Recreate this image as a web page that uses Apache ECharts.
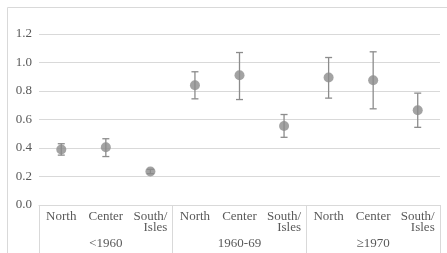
<!DOCTYPE html>
<html>
<head>
<meta charset="utf-8">
<script src="https://cdn.jsdelivr.net/npm/echarts@6/dist/echarts.min.js"></script>
<style>html,body{margin:0;padding:0;background:#fff}#c{width:447px;height:253px}</style>
</head>
<body>
<div id="c"></div>
<script>
var categories = ['North','Center','South/\nIsles','North','Center','South/\nIsles','North','Center','South/\nIsles'];
var groups = ['<1960','1960-69','\u22651970'];
var means = [0.39, 0.405, 0.235, 0.84, 0.91, 0.555, 0.895, 0.875, 0.665];
var lower = [0.35, 0.34, 0.22, 0.745, 0.74, 0.475, 0.75, 0.675, 0.545];
var upper = [0.43, 0.465, 0.25, 0.935, 1.07, 0.635, 1.035, 1.075, 0.785];
var yTicks = {min: 0, max: 1.2, interval: 0.2};

var chart = echarts.init(document.getElementById('c'), null, {renderer: 'canvas'});
var font = 'Liberation Serif';
var textColor = '#595959';
var lineColor = '#d9d9d9';

var pointData = means.map(function (v, i) { return [i, v]; });
var errData = means.map(function (v, i) { return [i, lower[i], upper[i]]; });

chart.setOption({
  animation: false,
  textStyle: {fontFamily: font},
  graphic: [{
    type: 'rect', left: 5, top: 5, silent: true,
    shape: {width: 460, height: 270},
    style: {fill: 'none', stroke: lineColor, lineWidth: 1}
  }],
  grid: {left: 39, right: 7, top: 34, bottom: 48},
  xAxis: [{
    type: 'category', data: categories, gridIndex: 0, position: 'bottom',
    axisLine: {show: true, lineStyle: {color: lineColor, width: 1}},
    axisTick: {show: false},
    axisLabel: {
      interval: 0, margin: 6, color: textColor, fontFamily: font, fontSize: 13,
      formatter: function (v) {
        return v.split('\n').map(function (s) { return '{r|' + s + '}'; }).join('\n');
      },
      rich: {r: {align: 'right', fontFamily: font, fontSize: 13, color: textColor, lineHeight: 11}}
    },
    splitLine: {show: false}
  }, {
    type: 'category', data: groups, gridIndex: 0, position: 'bottom',
    axisLine: {show: false},
    axisTick: {show: true, interval: 0, length: 48, lineStyle: {color: lineColor, width: 1}},
    axisLabel: {interval: 0, margin: 32, color: textColor, fontFamily: font, fontSize: 13},
    splitLine: {show: false}
  }],
  yAxis: {
    type: 'value', min: yTicks.min, max: yTicks.max, interval: yTicks.interval,
    axisLine: {show: false}, axisTick: {show: false},
    axisLabel: {margin: 7, color: textColor, fontFamily: font, fontSize: 13,
      formatter: function (v) { return v.toFixed(1); }},
    splitLine: {lineStyle: {color: lineColor, width: 1}}
  },
  series: [{
    type: 'custom', xAxisIndex: 0, z: 2,
    data: errData,
    renderItem: function (params, api) {
      var x = api.coord([api.value(0), api.value(1)]);
      var top = api.coord([api.value(0), api.value(2)]);
      var cap = 3.5;
      var st = {stroke: '#8c8c8c', lineWidth: 1.3, fill: 'none'};
      return {type: 'group', children: [
        {type: 'line', shape: {x1: x[0], y1: x[1], x2: top[0], y2: top[1]}, style: st},
        {type: 'line', shape: {x1: x[0] - cap, y1: x[1], x2: x[0] + cap, y2: x[1]}, style: st},
        {type: 'line', shape: {x1: top[0] - cap, y1: top[1], x2: top[0] + cap, y2: top[1]}, style: st}
      ]};
    }
  }, {
    type: 'scatter', xAxisIndex: 0, z: 3,
    data: pointData, symbol: 'circle', symbolSize: 10,
    itemStyle: {color: '#8c8c8c'}
  }]
});
</script>
</body>
</html>
